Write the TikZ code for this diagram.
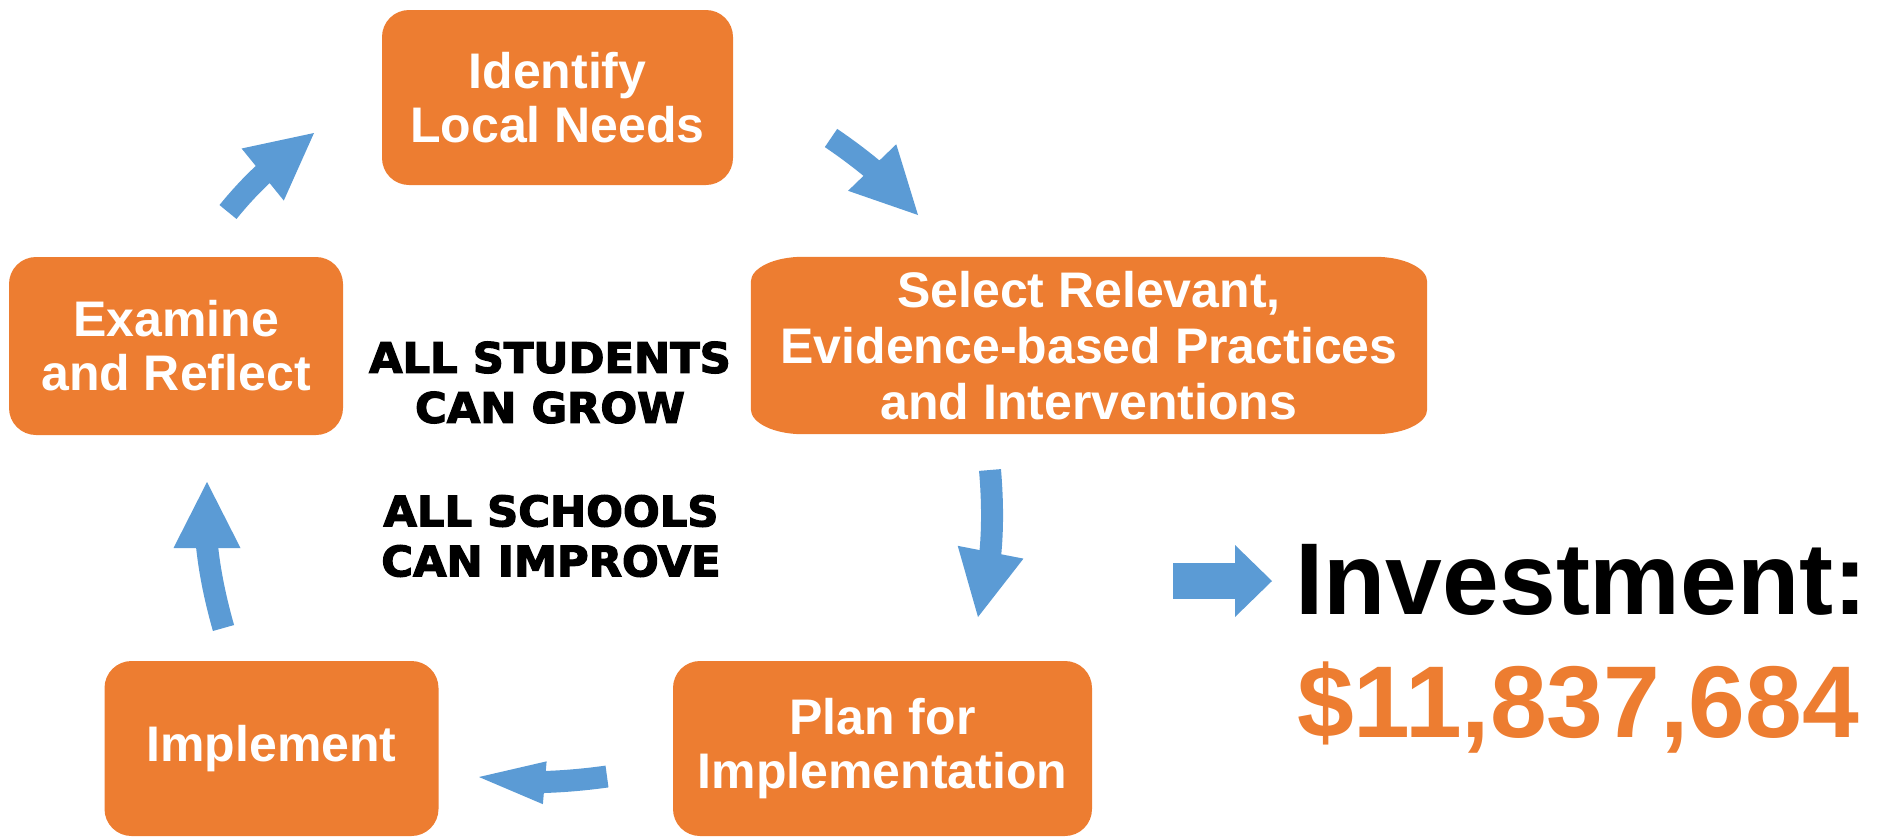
\documentclass[tikz,border=0pt]{standalone}
\usepackage{fontspec}
\setmainfont{Liberation Sans}
\newfontfamily\heavyfont[FakeStretch=1.03,FakeBold=3]{DejaVu Sans Bold}
\usetikzlibrary{arrows.meta,backgrounds}
\definecolor{boxorange}{HTML}{ED7D31}
\definecolor{arrowblue}{HTML}{5B9BD5}
\begin{document}
\begin{tikzpicture}[x=1pt, y=1pt,
  stepnode/.style={fill=boxorange, text=white, rounded corners=27pt, align=center, inner sep=0pt, font=\fontsize{50}{54}\selectfont\bfseries},
  cyclearrow/.style={draw=arrowblue, line width=22pt, -{Triangle[length=66pt, width=67pt, line width=0pt]}},
  motto/.style={align=center, inner sep=0pt, font=\heavyfont\fontsize{42}{50}\selectfont}]
\useasboundingbox (0,0) rectangle (1885,-838);
% the five steps of the cycle
\node[stepnode, minimum width=351pt, minimum height=175pt] (ident) at (557.5,-97.5) {Identify\\Local Needs};
\node[stepnode, fill=none, minimum width=676pt, minimum height=177pt, font=\fontsize{50}{56}\selectfont\bfseries] (select) at (1089,-345.5) {Select Relevant,\\Evidence-based Practices\\and Interventions};
\node[stepnode, minimum width=419pt, minimum height=175pt] (plan) at (882.5,-748.5) {Plan for\\Implementation};
\node[stepnode, minimum width=334pt, minimum height=175pt] (impl) at (271.5,-748.5) {Implement};
\node[stepnode, minimum width=334pt, minimum height=178pt] (exam) at (176,-346) {Examine\\and Reflect};
% wide corners of the select box
\begin{scope}[on background layer]
\fill[boxorange] ([xshift=52pt]select.north west) -- ([xshift=-52pt]select.north east)
  arc[start angle=90, end angle=0, x radius=52, y radius=25] -- ([yshift=25pt]select.south east)
  arc[start angle=0, end angle=-90, x radius=52, y radius=25] -- ([xshift=52pt]select.south west)
  arc[start angle=270, end angle=180, x radius=52, y radius=25] -- ([yshift=-25pt]select.north west)
  arc[start angle=180, end angle=90, x radius=52, y radius=25] -- cycle;
\end{scope}
% middle
\node[motto] (grow) at (550,-382.5) {ALL STUDENTS\\CAN GROW};
\node[motto] (improve) at (551,-536) {ALL SCHOOLS\\CAN IMPROVE};
% arrows between the steps
\coordinate (a1s) at (228,-212); \coordinate (a1e) at (314,-133);
\coordinate (a2s) at (831,-138); \coordinate (a2e) at (918,-215);
\coordinate (a3s) at (990,-470); \coordinate (a3e) at (978,-617);
\coordinate (a4s) at (607,-776.5); \coordinate (a4e) at (479,-777);
\coordinate (a5s) at (223.5,-628); \coordinate (a5e) at (207,-482);
\draw[cyclearrow] (a1s) to[out=51, in=219] (a1e);
\draw[cyclearrow] (a2s) to[out=-34, in=134] (a2e);
\draw[cyclearrow] (a3s) to[out=-85, in=79] (a3e);
\draw[cyclearrow, -{Triangle[length=66pt, width=43pt, line width=0pt]}] (a4s) to[out=188, in=-5] (a4e);
\draw[cyclearrow] (a5s) to[out=106, in=270] (a5e);
% investment
\coordinate (a6s) at (1173,-581); \coordinate (a6e) at (1272,-581);
\draw[draw=arrowblue, line width=36.6pt, -{Triangle[length=37pt, width=72pt, line width=0pt]}] (a6s) -- (a6e);
\node[anchor=base west, inner sep=0pt, font=\fontsize{102}{102}\selectfont\bfseries] (invest) at (1295,-614) {Investment:};
\node[anchor=base west, inner sep=0pt, text=boxorange, font=\fontsize{102}{102}\selectfont\bfseries] (amount) at (1297,-737) {\$11,837,684};
\end{tikzpicture}
\end{document}
